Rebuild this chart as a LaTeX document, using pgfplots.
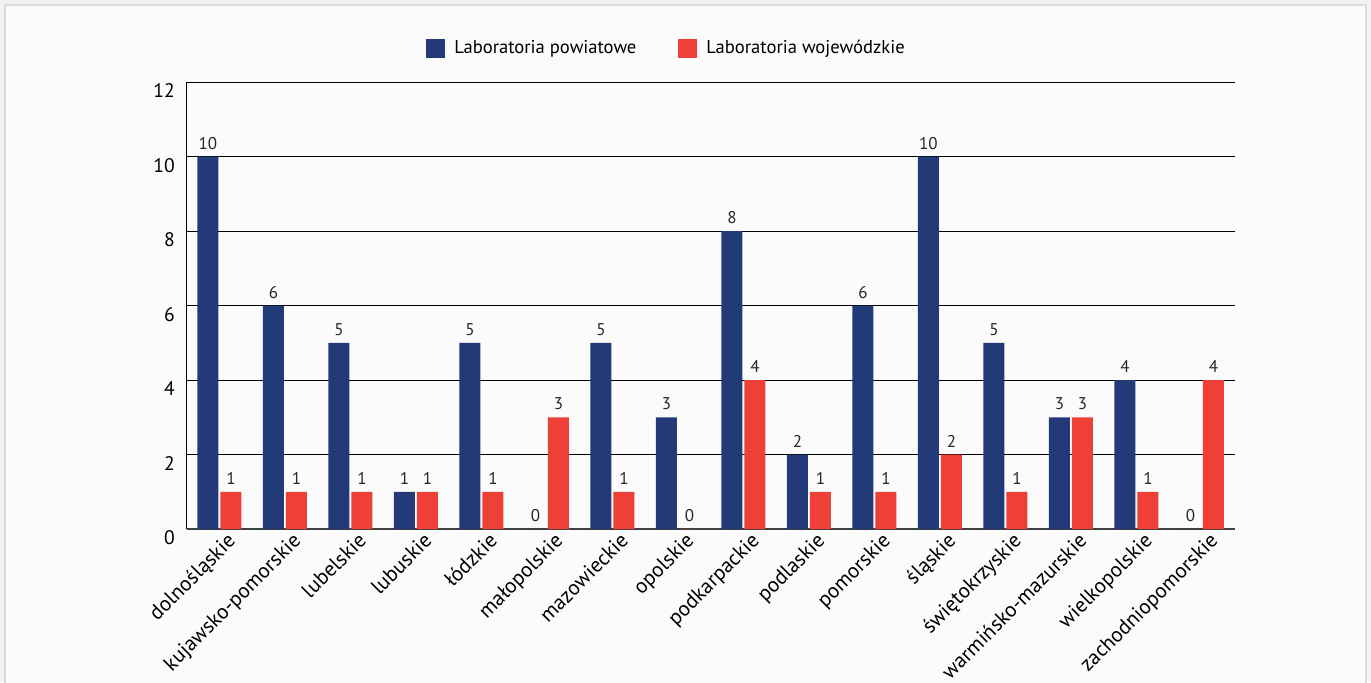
\documentclass[border=0pt]{standalone}
\usepackage{fontspec}
\setmainfont{PT Sans}
\usepackage{pgfplots}
\pgfplotsset{compat=1.18}
\definecolor{navy}{HTML}{223A78}
\definecolor{redb}{HTML}{EE4036}
\begin{document}
\begin{tikzpicture}
\useasboundingbox (0,0) rectangle (685.5pt,341pt);
\fill[black!5] (0,0) rectangle (685.5pt,341pt);
\filldraw[fill=black!1.5, draw=black!14, line width=0.6pt] (2.5pt,-5pt) rectangle (683pt,338.5pt);
\begin{axis}[
  at={(93.35pt,76.5pt)}, anchor=south west,
  width=524pt, height=223.5pt, scale only axis,
  xmin=-0.5, xmax=15.5, ymin=0, ymax=12,
  ytick={0,2,...,12}, xtick={0,...,15},
  xticklabels={dolnośląskie,kujawsko-pomorskie,lubelskie,lubuskie,łódzkie,małopolskie,mazowieckie,opolskie,podkarpackie,podlaskie,pomorskie,śląskie,świętokrzyskie,warmińsko-mazurskie,wielkopolskie,zachodniopomorskie},
  ybar=1pt, bar width=10.5pt,
  axis x line*=bottom, axis y line*=left,
  ymajorgrids, grid style={black, line width=0.5pt},
  major tick length=0pt,
  y axis line style={black, line width=0.5pt},
  x axis line style={black!75, line width=1pt},
  /pgf/number format/assume math mode=true,
  yticklabel style={font=\fontsize{9.8}{11}\selectfont, anchor=east, inner sep=0pt, xshift=-5.8pt, yshift=-4.5pt},
  xticklabel style={font=\fontsize{10.5}{12}\selectfont, rotate=45, anchor=north east, inner sep=0pt, xshift=1.5pt, yshift=-3pt},
  nodes near coords,
  nodes near coords style={font=\fontsize{8.5}{10}\selectfont, text=black!85},
  legend style={at={(0.4588,1.076)}, anchor=center, draw=none, fill=none, font=\fontsize{9.3}{11}\selectfont, legend columns=2, /tikz/every even column/.append style={column sep=19pt}, /tikz/every odd column/.append style={column sep=2.5pt}},
  legend image code/.code={\fill[#1] (0pt,-4.75pt) rectangle (9.5pt,4.75pt);},
]
\addplot[fill=navy, draw=none] coordinates {(0,10) (1,6) (2,5) (3,1) (4,5) (5,0) (6,5) (7,3) (8,8) (9,2) (10,6) (11,10) (12,5) (13,3) (14,4) (15,0)};
\addplot[fill=redb, draw=none] coordinates {(0,1) (1,1) (2,1) (3,1) (4,1) (5,3) (6,1) (7,0) (8,4) (9,1) (10,1) (11,2) (12,1) (13,3) (14,1) (15,4)};
\legend{Laboratoria powiatowe, Laboratoria wojewódzkie}
\end{axis}
\end{tikzpicture}
\end{document}
